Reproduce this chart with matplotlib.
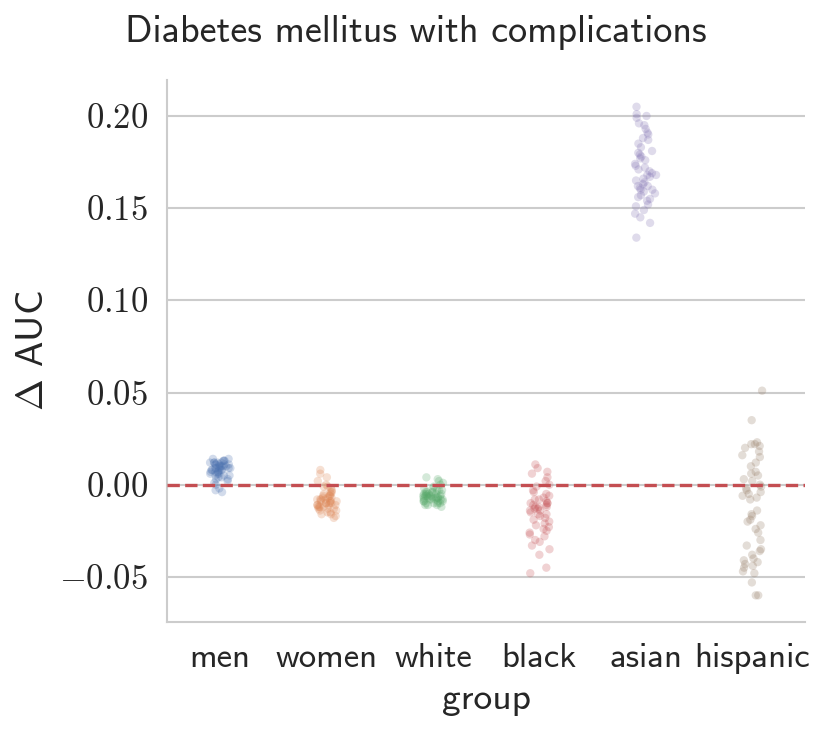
import numpy as np
import pandas as pd
import matplotlib
matplotlib.use("Agg")
import matplotlib.pyplot as plt
import seaborn as sns
from matplotlib.ticker import FuncFormatter

groups = ['men', 'women', 'white', 'black', 'asian', 'hispanic']

men = [0.012, 0.013, 0.011, 0.010, 0.014, 0.009, 0.008, 0.012, 0.007, 0.010,
       0.006, 0.011, 0.013, 0.009, 0.005, 0.008, 0.012, 0.010, 0.007, 0.004,
       0.009, 0.011, 0.006, 0.014, 0.008, 0.010, 0.003, 0.012, 0.007, 0.005,
       0.009, 0.013, 0.011, 0.002, 0.006, 0.008, 0.010, 0.004, 0.012, 0.001,
       0.007, 0.009, 0.011, 0.000, -0.002, 0.003, -0.004, -0.003, 0.005, 0.008]
women = [0.008, 0.006, 0.004, 0.002, 0.000, -0.001, -0.002, -0.003, -0.004, -0.005,
         -0.005, -0.006, -0.006, -0.007, -0.007, -0.008, -0.008, -0.008, -0.009, -0.009,
         -0.009, -0.010, -0.010, -0.010, -0.011, -0.011, -0.011, -0.012, -0.012, -0.012,
         -0.013, -0.013, -0.014, -0.014, -0.015, -0.015, -0.016, -0.016, -0.017, -0.018,
         -0.007, -0.010, -0.013, -0.004, -0.009, -0.011, -0.006, -0.012, -0.001, -0.008]
white = [0.004, 0.003, 0.002, 0.001, 0.000, -0.001, -0.002, -0.002, -0.003, -0.003,
         -0.004, -0.004, -0.004, -0.005, -0.005, -0.005, -0.005, -0.006, -0.006, -0.006,
         -0.006, -0.007, -0.007, -0.007, -0.007, -0.008, -0.008, -0.008, -0.008, -0.009,
         -0.009, -0.009, -0.010, -0.010, -0.010, -0.011, -0.011, -0.012, -0.006, -0.007,
         -0.008, -0.005, -0.009, -0.004, -0.003, -0.006, -0.007, -0.008, -0.010, -0.011]
black = [0.011, 0.009, 0.007, 0.006, 0.004, 0.002, 0.000, -0.001, -0.003, -0.004,
         -0.005, -0.006, -0.007, -0.008, -0.008, -0.009, -0.010, -0.010, -0.011, -0.011,
         -0.012, -0.012, -0.013, -0.013, -0.014, -0.015, -0.016, -0.017, -0.018, -0.019,
         -0.020, -0.021, -0.022, -0.023, -0.024, -0.025, -0.026, -0.027, -0.028, -0.030,
         -0.031, -0.033, -0.035, -0.038, -0.045, -0.048, -0.012, -0.014, -0.010, -0.016]
asian = [0.205, 0.201, 0.200, 0.199, 0.196, 0.195, 0.193, 0.191, 0.190, 0.188,
         0.187, 0.185, 0.183, 0.181, 0.180, 0.179, 0.177, 0.176, 0.174, 0.173,
         0.172, 0.171, 0.170, 0.169, 0.168, 0.167, 0.166, 0.165, 0.164, 0.163,
         0.162, 0.162, 0.161, 0.160, 0.160, 0.159, 0.158, 0.157, 0.156, 0.155,
         0.154, 0.152, 0.151, 0.149, 0.147, 0.145, 0.142, 0.134, 0.178, 0.168]
hispanic = [0.051, 0.035, 0.023, 0.022, 0.022, 0.021, 0.020, 0.018, 0.016, 0.015,
            0.012, 0.010, 0.007, 0.006, 0.005, 0.003, 0.002, 0.000, -0.001, -0.002,
            -0.003, -0.004, -0.005, -0.006, -0.007, -0.008, -0.014, -0.016, -0.017, -0.019,
            -0.020, -0.022, -0.024, -0.026, -0.030, -0.033, -0.035, -0.036, -0.038, -0.040,
            -0.041, -0.042, -0.043, -0.044, -0.045, -0.047, -0.048, -0.053, -0.060, -0.060]

yticks = [-0.05, 0.00, 0.05, 0.10, 0.15, 0.20]

sns.set_style('whitegrid')
plt.rcParams['font.family'] = ['cmss10', 'DejaVu Sans']
plt.rcParams['mathtext.fontset'] = 'cm'

df = pd.DataFrame({
    'group': np.repeat(groups, [len(men), len(women), len(white), len(black), len(asian), len(hispanic)]),
    'delta': men + women + white + black + asian + hispanic,
})

np.random.seed(3)
fig = plt.figure(figsize=(8.31, 7.34), dpi=100)
ax = fig.add_axes([0.201, 0.153, 0.768, 0.738])
sns.stripplot(data=df, x='group', y='delta', hue='group', order=groups,
              palette='deep', alpha=0.25, size=6, jitter=True, legend=False, ax=ax)
ax.axhline(0, color='#C44E52', ls='--', lw=2.4, zorder=3)

ax.set_xlim(-0.5, 5.5)
ax.set_ylim(-0.0743, 0.2195)
ax.set_yticks(yticks)
ax.yaxis.set_major_formatter(FuncFormatter(lambda v, p: r'$%.2f$' % v))
ax.tick_params(axis='y', labelsize=25, pad=10)
ax.tick_params(axis='x', labelsize=25, pad=12)
ax.grid(axis='y', color='#cccccc', lw=1.5)
ax.grid(axis='x', visible=False)
sns.despine(ax=ax)
for s in ['left', 'bottom']:
    ax.spines[s].set_color('#cccccc')
    ax.spines[s].set_linewidth(1.5)

ax.set_xlabel('group', fontsize=27, labelpad=6)
ax.set_ylabel(r'$\Delta$ AUC', fontsize=27.5, labelpad=6)
fig.suptitle('Diabetes mellitus with complications', fontsize=27.5, x=0.5, y=0.98)

fig.savefig('out.png', dpi=100)
